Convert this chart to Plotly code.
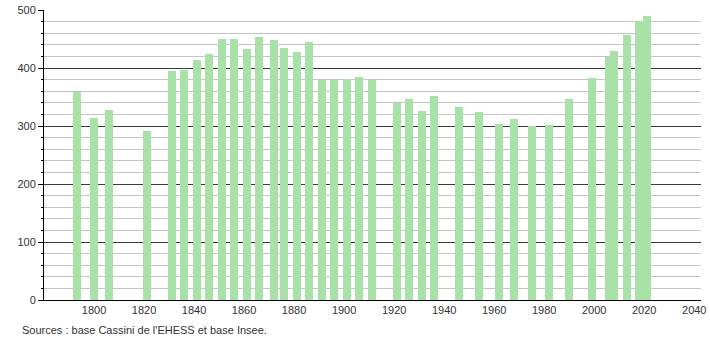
import plotly.graph_objects as go

years = [1793, 1800, 1806, 1821, 1831, 1836, 1841, 1846, 1851, 1856, 1861, 1866,
         1872, 1876, 1881, 1886, 1891, 1896, 1901, 1906, 1911, 1921, 1926, 1931,
         1936, 1946, 1954, 1962, 1968, 1975, 1982, 1990, 1999, 2006, 2008, 2013,
         2018, 2021]
population = [359, 314, 328, 292, 394, 397, 414, 425, 450, 450, 433, 454,
              449, 435, 428, 445, 379, 380, 381, 384, 379, 339, 347, 326,
              352, 332, 324, 304, 312, 300, 302, 347, 383, 419, 429, 457,
              481, 490]
x_ticks = [1800, 1820, 1840, 1860, 1880, 1900, 1920, 1940, 1960, 1980, 2000, 2020, 2040]
source_text = "Sources : base Cassini de l'EHESS et base Insee."

fig = go.Figure()
fig.add_trace(go.Bar(
    x=years, y=population, width=3.2,
    marker=dict(color="#a9e2a9", line=dict(width=0)),
    hoverinfo="x+y",
))

fig.update_layout(
    width=710, height=340,
    margin=dict(l=44, r=9, t=10, b=40, autoexpand=False),
    plot_bgcolor="white", paper_bgcolor="white",
    showlegend=False,
    font=dict(family="Liberation Sans, Arial, sans-serif", size=11, color="#333333"),
    bargap=0,
)
fig.update_xaxes(
    range=[1780, 2042.7], automargin=False,
    tickmode="array", tickvals=x_ticks, ticktext=[str(t) for t in x_ticks],
    showgrid=False, zeroline=False,
    showline=True, linecolor="#000000", linewidth=1,
    ticks="", tickfont=dict(size=11, color="#333333"),
)
fig.update_yaxes(
    range=[0, 500], dtick=100, automargin=False,
    showgrid=True, gridcolor="#3a3a3a", gridwidth=1,
    zeroline=False,
    showline=True, linecolor="#000000", linewidth=1,
    ticks="outside", ticklen=5, tickcolor="#000000", tickwidth=1,
    tickfont=dict(size=11, color="#333333"),
    minor=dict(dtick=20, showgrid=True, gridcolor="#c4c4c4", gridwidth=1,
               ticks="outside", ticklen=2, tickcolor="#000000"),
)
fig.add_annotation(
    text=source_text, xref="paper", yref="paper",
    x=(20 - 44) / 657, y=-30 / 290, xanchor="left", yanchor="middle",
    showarrow=False, font=dict(size=11, color="#333333"),
)

fig.write_html("out.html")
